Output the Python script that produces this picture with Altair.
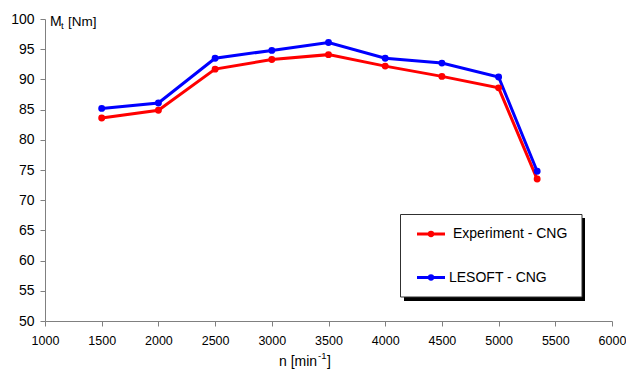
import altair as alt
import pandas as pd

# Engine speed [min^-1] and torque [Nm]
speed = [1500, 2000, 2500, 3000, 3500, 4000, 4500, 5000, 5340]
torque_experiment = [83.6, 84.9, 91.7, 93.3, 94.1, 92.2, 90.5, 88.6, 73.5]
torque_lesoft = [85.2, 86.1, 93.5, 94.8, 96.1, 93.5, 92.7, 90.4, 74.8]
series_names = ["Experiment - CNG", "LESOFT - CNG"]
series_colors = ["#ff0000", "#0000ff"]

x_ticks = list(range(1000, 6001, 500))
y_ticks = list(range(50, 101, 5))

FONT = "Liberation Sans"
AXIS_GRAY = "#808080"

rows = []
for name, vals in zip(series_names, [torque_experiment, torque_lesoft]):
    for s, t in zip(speed, vals):
        rows.append({"speed": s, "torque": t, "series": name})
df = pd.DataFrame(rows)

x_scale = alt.Scale(domain=[1000, 6000], nice=False, zero=False)
y_scale = alt.Scale(domain=[50, 100], nice=False, zero=False)
color_scale = alt.Scale(domain=series_names, range=series_colors)

base = alt.Chart(df).encode(
    x=alt.X("speed:Q", scale=x_scale,
            axis=alt.Axis(values=x_ticks, title=None, grid=False, format="d",
                          tickSize=5, labelPadding=8, labelFlush=False,
                          domainColor=AXIS_GRAY, tickColor=AXIS_GRAY,
                          labelColor="black", labelFont=FONT, labelFontSize=12.5)),
    y=alt.Y("torque:Q", scale=y_scale,
            axis=alt.Axis(values=y_ticks, title=None, grid=False, format="d",
                          tickSize=5, labelPadding=6, labelFlush=False,
                          domainColor=AXIS_GRAY, tickColor=AXIS_GRAY,
                          labelColor="black", labelFont=FONT, labelFontSize=14)),
    color=alt.Color("series:N", scale=color_scale, legend=None),
    detail="series:N",
)

lines = base.mark_line(strokeWidth=3)
points = base.mark_point(filled=True, size=48, opacity=1)

one = pd.DataFrame({"k": [0]})


def label(text, x, y, size=14, align="left", baseline="alphabetic"):
    return alt.Chart(one).mark_text(
        text=text, font=FONT, fontSize=size, align=align, baseline=baseline,
        color="black"
    ).encode(x=alt.value(x), y=alt.value(y))


# Axis titles with sub/superscripts
y_title = (label("M", 5, 7, size=14) + label("t", 16, 10, size=9.5)
           + label("[Nm]", 23, 7, size=13.5))
x_title = (label("n [min", 234, 347) + label("-1", 273, 340, size=9.5)
           + label("]", 282, 347))

# Legend box with drop shadow
shadow = alt.Chart(one).mark_rect(color="black").encode(
    x=alt.value(359), x2=alt.value(540), y=alt.value(199), y2=alt.value(282))
box = alt.Chart(one).mark_rect(fill="white", stroke="#303030", strokeWidth=1).encode(
    x=alt.value(355.5), x2=alt.value(537), y=alt.value(195.5), y2=alt.value(278))

legend_layers = []
for i, (name, col) in enumerate(zip(series_names, series_colors)):
    yy = 215 if i == 0 else 258.5
    tx = 408 if i == 0 else 404
    legend_layers.append(alt.Chart(one).mark_rule(color=col, strokeWidth=3).encode(
        x=alt.value(372), x2=alt.value(400), y=alt.value(yy)))
    legend_layers.append(alt.Chart(one).mark_point(filled=True, size=40, color=col, opacity=1).encode(
        x=alt.value(386), y=alt.value(yy)))
    legend_layers.append(label(name, tx, yy, baseline="middle"))

chart = alt.layer(lines, points, y_title, x_title, shadow, box, *legend_layers).properties(
    width=567, height=302,
    padding={"left": 45, "top": 19, "right": 14, "bottom": 53},
    autosize=alt.AutoSizeParams(type="none"),
    background="white",
).configure_view(stroke=None)

chart.save("out.html", embed_options={"renderer": "svg", "actions": False})
